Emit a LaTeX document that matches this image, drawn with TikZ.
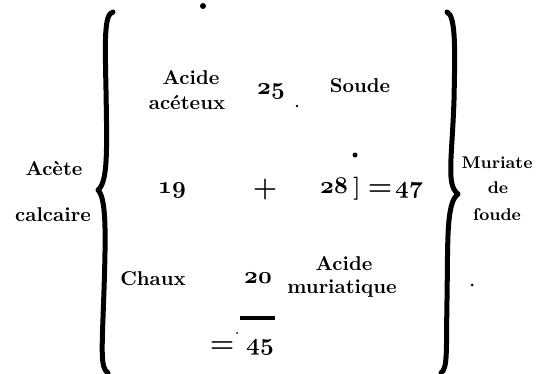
\documentclass[tikz,border=0pt]{standalone}
\usepackage{tikz}
\newcommand\osn[1]{{\usefont{OML}{cmm}{b}{it}#1}}

\begin{document}
\begin{tikzpicture}[x=0.5pt,y=-0.5pt,
    word/.style={anchor=base, inner sep=0pt, font=\fontsize{10}{12}\selectfont\bfseries},
    num/.style={anchor=base, inner sep=0pt, font=\fontsize{11.5}{13}\selectfont},
    small/.style={anchor=base, inner sep=0pt, font=\fontsize{8.5}{10}\selectfont\bfseries},
    sign/.style={anchor=base, inner sep=0pt, font=\fontsize{14}{16}\selectfont\bfseries},
    brace/.style={line width=2.5pt, line cap=round, line join=round}]
  \useasboundingbox (0,0) rectangle (540,374);
  % the two braces
  \draw[brace] (113,12) .. controls (104,14) and (105,40) .. (106,90)
    .. controls (107,150) and (108,182) .. (98,190)
    .. controls (106,198) and (106,230) .. (104,290)
    .. controls (102,350) and (100,368) .. (108,373);
  \draw[brace] (447,12) .. controls (456,16) and (455,50) .. (454,100)
    .. controls (452,160) and (446,185) .. (458,194)
    .. controls (446,203) and (448,240) .. (447,300)
    .. controls (446,350) and (448,368) .. (441,373);
  % outside
  \node (acete) [word] at (54,175) {Acète};
  \node (calc)  [word] at (53,221) {calcaire};
  \node (mur)   [small] at (497,168) {Muriate};
  \node (de)    [small] at (498,193) {de};
  \node (sou)   [small] at (497,220) {ſoude};
  % top row
  \node (acide1) [word] at (191,85) {Acide};
  \node (acet)   [word] at (187,110) {acéteux};
  \node (n25)    [num] at (271,95) {\osn{25}};
  \node (soude)  [word] at (360,92) {Soude};
  % middle row
  \node (n19)  [num] at (172,193) {\osn{19}};
  \node (plus) [sign] at (265,196) {+};
  \node (n28)  [num] at (334,193) {\osn{28}};
  \node (brk)  [word, font=\fontsize{11.5}{13}\selectfont\bfseries] at (357,194) {]};
  \node (eq1)  [sign] at (380,195) {=};
  \node (n47)  [num] at (409,193) {\osn{47}};
  % bottom row
  \node (chaux)  [word] at (153,285) {Chaux};
  \node (n20)    [num] at (258,283) {\osn{20}};
  \node (acide2) [word] at (344,270) {Acide};
  \node (muri)   [word] at (342,293) {muriatique};
  \coordinate (barl) at (240,318);
  \coordinate (barr) at (275,318);
  \draw[line width=1.7pt] (barl) -- (barr);
  \node (eq2) [sign] at (222,352) {=};
  \node (n45) [num] at (260,350) {\osn{45}};
  % specks of the print
  \fill (203,6) circle (3);
  \fill (355,155) circle (2.5);
  \fill (297,106) circle (1.3);
  \fill (472,285) circle (1.5);
  \fill (237,333) circle (1);
\end{tikzpicture}
\end{document}
